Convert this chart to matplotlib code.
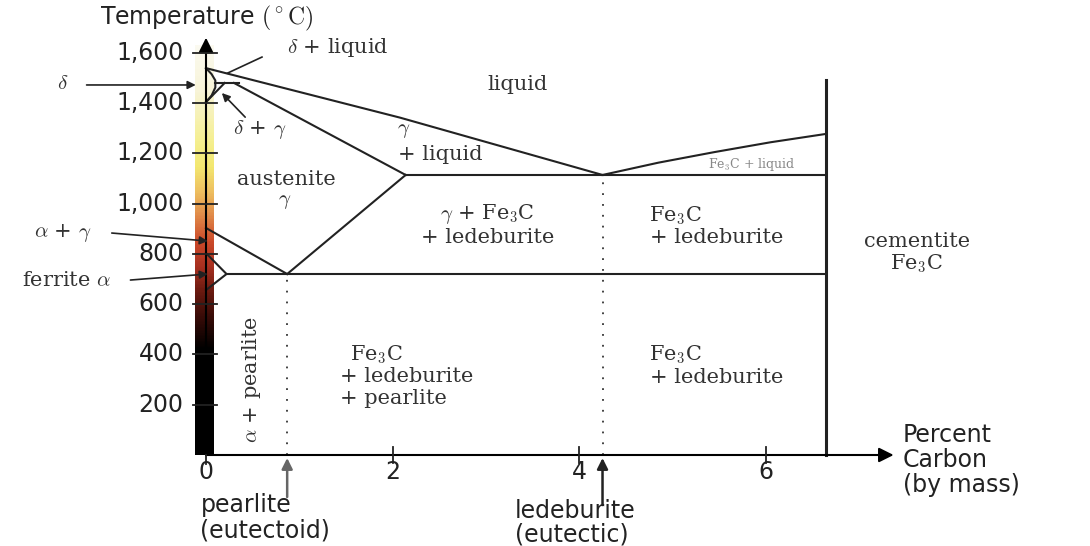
import numpy as np
import matplotlib
matplotlib.use('Agg')
import matplotlib.pyplot as plt
from matplotlib.colors import LinearSegmentedColormap

plt.rcParams['mathtext.fontset'] = 'cm'

# phase boundaries: carbon (wt %) and temperature (°C)
liquidus_c = [0, 2.08, 4.25]
liquidus_t = [1539, 1342, 1114]
fe3c_liq_c = [4.25, 4.85, 5.45, 6.05, 6.64]
fe3c_liq_t = [1114, 1163, 1205, 1244, 1277]
delta_c = [0, 0.06, 0.1, 0.1, 0.06, 0]
delta_t = [1539, 1515, 1490, 1462, 1430, 1404]
gamma_top_c = [0, 0.2]
gamma_top_t = [1404, 1480]
peritectic_c = [0.1, 0.35]
peritectic_t = [1480, 1480]
solidus_c = [0.3, 2.14]
solidus_t = [1480, 1114]
eutectic_c = [2.14, 6.64]
eutectic_t = [1114, 1114]
a3_c = [0, 0.87]
a3_t = [903, 720]
acm_c = [0.87, 2.14]
acm_t = [720, 1114]
ferrite_c = [0, 0.22, 0]
ferrite_t = [803, 720, 656]
eutectoid_c = [0.22, 6.64]
eutectoid_t = [720, 720]
cementite_c = [6.64, 6.64]
cementite_t = [0, 1492]
eutectoid_pt = 0.87
eutectic_pt = 4.25

temp_ticks = [200, 400, 600, 800, 1000, 1200, 1400, 1600]
carbon_ticks = [0, 2, 4, 6]

# glow colour of hot steel along the temperature axis
bar_temps = [0, 420, 550, 650, 750, 850, 950, 1050, 1150, 1250, 1450, 1630]
bar_colors = ['#000000', '#000000', '#3a0c08', '#6a1a10', '#a83020', '#cc4a2a',
              '#e08848', '#eec060', '#f3e870', '#f5ef90', '#f8f4d8', '#fbfaf0']

fig = plt.figure(figsize=(10.9, 5.46), dpi=100)
ax = fig.add_axes([0, 0, 1, 1])
ax.set_axis_off()

glow = LinearSegmentedColormap.from_list(
    'glow', list(zip(np.array(bar_temps) / bar_temps[-1], bar_colors)))
grad = np.linspace(0, bar_temps[-1], 400).reshape(-1, 1)
ax.imshow(grad, cmap=glow, extent=[-0.12, 0.075, 0, bar_temps[-1]],
          origin='lower', aspect='auto', zorder=1)

line = dict(color='#222222', lw=1.5, zorder=3)
for c, t in [(liquidus_c, liquidus_t), (fe3c_liq_c, fe3c_liq_t),
             (delta_c, delta_t), (gamma_top_c, gamma_top_t),
             (peritectic_c, peritectic_t), (solidus_c, solidus_t),
             (eutectic_c, eutectic_t), (a3_c, a3_t), (acm_c, acm_t),
             (ferrite_c, ferrite_t), (eutectoid_c, eutectoid_t)]:
    ax.plot(c, t, **line)
ax.plot(cementite_c, cementite_t, color='#222222', lw=2.2, zorder=3)

for c, top in [(eutectoid_pt, 720), (eutectic_pt, 1114)]:
    ax.plot([c, c], [0, top], color='#333333', lw=1.3, dashes=(1, 5), zorder=2)

# axes with arrow heads
arrow = dict(arrowstyle='-|>', color='black', lw=1.5, mutation_scale=22,
             shrinkA=0, shrinkB=0)
ax.annotate('', xy=(0, 1660), xytext=(0, 0), arrowprops=arrow, zorder=4)
ax.annotate('', xy=(7.37, 0), xytext=(0, 0), arrowprops=arrow, zorder=4)

for t in temp_ticks:
    ax.plot([-0.14, 0.12], [t, t], color='#222222', lw=1.3, zorder=4)
    ax.text(-0.24, t, f'{t:,}', ha='right', va='center', fontsize=17,
            color='#222222')
for c in carbon_ticks:
    lo = -35 if c == 0 else -30
    hi = 0 if c == 0 else 30
    ax.plot([c, c], [lo, hi], color='#222222', lw=1.3, zorder=4)
    ax.text(c, -68, str(c), ha='center', va='center', fontsize=17,
            color='#222222')

ax.text(0.01, 1738, r'Temperature $(^\circ\mathrm{C})$', ha='center',
        va='center', fontsize=17, color='#222222')

serif = dict(family='DejaVu Serif', fontsize=15, color='#333333',
             ha='center', va='center')
ax.text(1.41, 1623, r'$\delta$ + liquid', **serif)
ax.text(-1.54, 1476, r'$\delta$', **serif)
ax.text(0.58, 1293, r'$\delta$ + $\gamma$', **serif)
ax.text(3.34, 1472, 'liquid', **serif)
ax.text(2.12, 1289, r'$\gamma$', **serif)
ax.text(2.51, 1197, '+ liquid', **serif)
ax.text(0.86, 1097, 'austenite', **serif)
ax.text(0.84, 1010, r'$\gamma$', **serif)
ax.text(3.01, 958, r'$\gamma$ + Fe$_3$C', **serif)
ax.text(3.02, 867, '+ ledeburite', **serif)
ax.text(5.03, 950, r'Fe$_3$C', **serif)
ax.text(5.47, 867, '+ ledeburite', **serif)
ax.text(7.62, 850, 'cementite', **serif)
ax.text(7.62, 760, r'Fe$_3$C', **serif)
ax.text(-1.54, 883, r'$\alpha$ + $\gamma$', **serif)
ax.text(-1.50, 696, r'ferrite $\alpha$', **serif)
ax.text(0.49, 302, r'$\alpha$ + pearlite', rotation=90, **serif)
ax.text(5.03, 400, r'Fe$_3$C', **serif)
ax.text(5.47, 310, '+ ledeburite', **serif)
left = dict(serif, ha='left')
ax.text(1.54, 400, r'Fe$_3$C', **left)
ax.text(1.44, 311, '+ ledeburite', **left)
ax.text(1.44, 225, '+ pearlite', **left)
ax.text(5.85, 1157, r'Fe$_3$C + liquid', family='DejaVu Serif', fontsize=9,
        color='#888888', ha='center', va='center')

# pointers into the narrow phase fields
small = dict(arrowstyle='-|>', color='#222222', lw=1.2, mutation_scale=12,
             shrinkA=0, shrinkB=0)
ax.annotate('', xy=(-0.11, 1472), xytext=(-1.28, 1472), arrowprops=small, zorder=5)
ax.annotate('', xy=(0.17, 1440), xytext=(0.42, 1344), arrowprops=small, zorder=5)
ax.annotate('', xy=(0.02, 851), xytext=(-1.01, 883), arrowprops=small, zorder=5)
ax.annotate('', xy=(0.02, 720), xytext=(-0.81, 696), arrowprops=small, zorder=5)
ax.plot([0.23, 0.6], [1519, 1583], color='#222222', lw=1.2, zorder=5)

up = dict(arrowstyle='-|>', lw=1.8, mutation_scale=16, shrinkA=0, shrinkB=0)
ax.annotate('', xy=(eutectoid_pt, -12), xytext=(eutectoid_pt, -167),
            arrowprops=dict(up, color='#666666'))
ax.annotate('', xy=(eutectic_pt, -12), xytext=(eutectic_pt, -199),
            arrowprops=dict(up, color='#222222'))

sans = dict(fontsize=17, color='#222222', ha='left', va='center')
ax.text(-0.06, -199, 'pearlite', **sans)
ax.text(-0.06, -302, '(eutectoid)', **sans)
ax.text(3.31, -222, 'ledeburite', **sans)
ax.text(3.31, -318, '(eutectic)', **sans)
ax.text(7.47, 80, 'Percent', **sans)
ax.text(7.47, -20, 'Carbon', **sans)
ax.text(7.47, -119, '(by mass)', **sans)

ax.set_xlim(-2.208, 9.475)
ax.set_ylim(-362, 1810)

fig.savefig('out.png', dpi=100)
